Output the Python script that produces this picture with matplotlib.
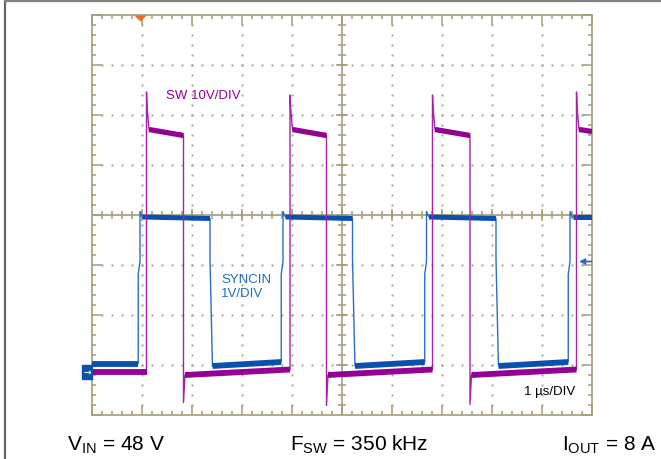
import matplotlib
matplotlib.use('Agg')
import numpy as np
import matplotlib.pyplot as plt
from matplotlib.lines import Line2D
from matplotlib.patches import Rectangle

plt.rcParams['font.family'] = ['Liberation Sans', 'DejaVu Sans']
plt.rcParams['mathtext.fontset'] = 'custom'
plt.rcParams['mathtext.rm'] = 'Liberation Sans'
plt.rcParams['mathtext.it'] = 'Liberation Sans:italic'
plt.rcParams['mathtext.bf'] = 'Liberation Sans:bold'

# ---------------- scope settings ----------------
n_hdiv, n_vdiv = 10, 8
t_end = 10.0                 # µs (1 µs/div)
sw_volts_per_div = 10.0
sync_volts_per_div = 1.0
ground_div = -3.13           # channel ground level, divisions from centre

# ---------------- SW node (10 V/div) ----------------
sw_rise_t = [1.09, 3.96, 6.81, 9.69]
sw_fall_t = [1.83, 4.69, 7.56]
sw_spike_v = [55.9, 55.3, 55.3, 55.9]
sw_ring_v = 52.8
sw_high_v = [48.4, 47.2]          # plateau start / end
sw_high_cut_v = 48.0              # last (truncated) plateau at screen edge
sw_undershoot_v = [-6.2, -6.8, -6.6]
sw_low0_v = 0.0
sw_low_v = [-0.7, 0.4]            # low level after fall / before rise

# ---------------- SYNCIN (1 V/div) ----------------
sync_rise_t = [0.95, 3.81, 6.68, 9.55]
sync_fall_t = [2.36, 5.21, 8.08]
sync_low0_v = 0.16
sync_low_v = [0.11, 0.19]
sync_high_v = [3.09, 3.06]
sync_overshoot_v = 3.2
sync_step_v = [1.95, 2.2, 2.25, 0.5]   # kinks on the edges
sync_marker_v = 2.2                    # right-hand level marker
trig_t = 0.95

# ---------------- colours ----------------
grid_c = '#a39d78'
dot_c = '#a8a388'
mag_c = '#930093'
mag_thin = '#a324a6'
blue_c = '#0a50ae'
blue_thin = '#2a6ec2'


def sw_div(v):
    return ground_div + np.asarray(v, float) / sw_volts_per_div


def sync_div(v):
    return ground_div + np.asarray(v, float) / sync_volts_per_div


def build_sw():
    ts, vs, thick = [0.0, sw_rise_t[0]], [sw_low0_v, sw_low0_v], []
    thick.append(([0.0, sw_rise_t[0]], [sw_low0_v, sw_low0_v], 4.2))
    for i, tr in enumerate(sw_rise_t):
        ts += [tr, tr + 0.012, tr + 0.05]
        vs += [sw_spike_v[i], sw_ring_v, sw_high_v[0]]
        if i < len(sw_fall_t):
            tf = sw_fall_t[i]
            ts += [tf, tf, tf + 0.03]
            vs += [sw_high_v[1], sw_undershoot_v[i], sw_low_v[0]]
            thick.append(([tr + 0.05, tf], sw_high_v, 3.8))
            tn = sw_rise_t[i + 1]
            ts += [tn]
            vs += [sw_low_v[1]]
            thick.append(([tf + 0.03, tn], sw_low_v, 4.2))
        else:
            ts += [t_end]
            vs += [sw_high_cut_v]
            thick.append(([tr + 0.05, t_end], [sw_high_v[0], sw_high_cut_v], 3.8))
    return ts, vs, thick


def build_sync():
    d = 0.025
    ts, vs, thick = [0.0, sync_rise_t[0] - d], [sync_low0_v, sync_low0_v], []
    thick.append(([0.0, sync_rise_t[0] - d], [sync_low0_v, sync_low0_v], 4.2))
    for i, tr in enumerate(sync_rise_t):
        ts += [tr - d, tr + 0.01, tr + 0.01, tr + 0.06]
        vs += [sync_step_v[0], sync_step_v[1], sync_overshoot_v, sync_high_v[0]]
        if i < len(sync_fall_t):
            tf = sync_fall_t[i]
            ts += [tf, tf, tf + 0.04, tf + 0.05]
            vs += [sync_high_v[1], sync_step_v[2], sync_step_v[3], sync_low_v[0]]
            thick.append(([tr + 0.06, tf], sync_high_v, 3.6))
            tn = sync_rise_t[i + 1]
            ts += [tn - d]
            vs += [sync_low_v[1]]
            thick.append(([tf + 0.05, tn - d], sync_low_v, 4.2))
        else:
            ts += [t_end]
            vs += [sync_high_v[0]]
            thick.append(([tr + 0.06, t_end], [sync_high_v[0], sync_high_v[0]], 3.6))
    return ts, vs, thick


W, H = 661, 460
fig = plt.figure(figsize=(W / 100, H / 100), dpi=100)
ax = fig.add_axes([92 / W, 1 - 416 / H, 500 / W, 400 / H])
ax.set_xlim(0, t_end)
ax.set_ylim(-n_vdiv / 2, n_vdiv / 2)

for s in ax.spines.values():
    s.set_color(grid_c)
    s.set_linewidth(1.2)

ax.set_xticks(np.arange(0, n_hdiv + 1, 1))
ax.set_yticks(np.arange(-4, 5, 1))
ax.set_xticks(np.arange(0, n_hdiv + 0.01, 0.2), minor=True)
ax.set_yticks(np.arange(-4, 4.01, 0.2), minor=True)
ax.tick_params(which='both', direction='in', top=True, right=True,
               labelbottom=False, labelleft=False, color=grid_c, width=1.1)
ax.tick_params(which='major', length=7)
ax.tick_params(which='minor', length=3.2)

# dotted graticule
minor_x = np.arange(0.2, n_hdiv, 0.2)
minor_y = np.arange(-3.8, 4, 0.2)
for gx in [1, 2, 3, 4, 6, 7, 8, 9]:
    ax.plot(np.full_like(minor_y, gx), minor_y, ls='none', marker='s', ms=1.4,
            mec='none', mfc=dot_c, zorder=1)
for gy in [-3, -2, -1, 1, 2, 3]:
    ax.plot(minor_x, np.full_like(minor_x, gy), ls='none', marker='s', ms=1.4,
            mec='none', mfc=dot_c, zorder=1)

# centre crosshair with ticks
ax.axhline(0, color=grid_c, lw=1.2, zorder=1)
ax.axvline(5, color=grid_c, lw=1.2, zorder=1)
ax.plot(minor_x, np.zeros_like(minor_x), ls='none', marker='|', ms=5.5,
        mew=1.1, color=grid_c, zorder=1)
ax.plot(np.full_like(minor_y, 5.0), minor_y, ls='none', marker='_', ms=5.5,
        mew=1.1, color=grid_c, zorder=1)
maj_x = np.arange(1, 10, 1)
maj_y = np.arange(-3, 4, 1)
ax.plot(maj_x, np.zeros_like(maj_x), ls='none', marker='|', ms=8.5,
        mew=1.1, color=grid_c, zorder=1)
ax.plot(np.full(len(maj_y), 5.0), maj_y, ls='none', marker='_', ms=8.5,
        mew=1.1, color=grid_c, zorder=1)

# traces
st, sv, sthick = build_sync()
ax.plot(st, sync_div(sv), color=blue_thin, lw=1.0, zorder=3)
for tt, vv, lw in sthick:
    ax.plot(tt, sync_div(vv), color=blue_c, lw=lw, solid_capstyle='butt', zorder=3)

wt, wv, wthick = build_sw()
ax.plot(wt, sw_div(wv), color=mag_thin, lw=1.0, zorder=4)
for tt, vv, lw in wthick:
    ax.plot(tt, sw_div(vv), color=mag_c, lw=lw, solid_capstyle='butt', zorder=4)

# markers
ax.plot([trig_t], [3.95], marker=[(-1, 0.5), (1, 0.5), (0, -0.5)], ms=9,
        color='#f26a1b', mec='none', clip_on=False, zorder=6)
ax.add_patch(Rectangle((-0.2, ground_div - 0.14), 0.2, 0.28, color=blue_c,
                       clip_on=False, zorder=6))
ax.text(-0.1, ground_div, '→', color='white', fontsize=6.5, ha='center',
        va='center', zorder=7, family='DejaVu Sans', fontweight='bold')
my = sync_div(sync_marker_v)
ax.annotate('', xy=(9.74, my), xytext=(9.99, my),
            arrowprops=dict(arrowstyle='-|>', color=blue_thin, lw=1.3,
                            mutation_scale=8, shrinkA=0, shrinkB=0), zorder=6)

# labels
ax.text(1.48, 2.4, 'SW 10V/DIV', color=mag_c, fontsize=9.5, ha='left', va='center')
ax.text(2.58, -1.42, 'SYNCIN\n1V/DIV', color='#1f6fc0', fontsize=9.5,
        ha='left', va='center', linespacing=1.2)
ax.text(9.66, -3.52, '1 µs/DIV', color='black', fontsize=9.5, ha='right', va='center')

by = 1 - 451 / H
fig.text(67 / W, by, r'V$_{\mathrm{IN}}$ = 48 V', fontsize=15, va='baseline')
fig.text(290 / W, by, r'F$_{\mathrm{SW}}$ = 350 kHz', fontsize=15, va='baseline')
fig.text(562 / W, by, r'I$_{\mathrm{OUT}}$ = 8 A', fontsize=15, va='baseline')

# outer frame
fig.add_artist(Line2D([4.8 / W, 4.8 / W], [0, 1 - 1.5 / H], transform=fig.transFigure,
                      color='#666666', lw=1.6))
fig.add_artist(Line2D([4.8 / W, 1], [1 - 2 / H, 1 - 2 / H], transform=fig.transFigure,
                      color='#808080', lw=1.6))

fig.savefig('out.png', dpi=100)
